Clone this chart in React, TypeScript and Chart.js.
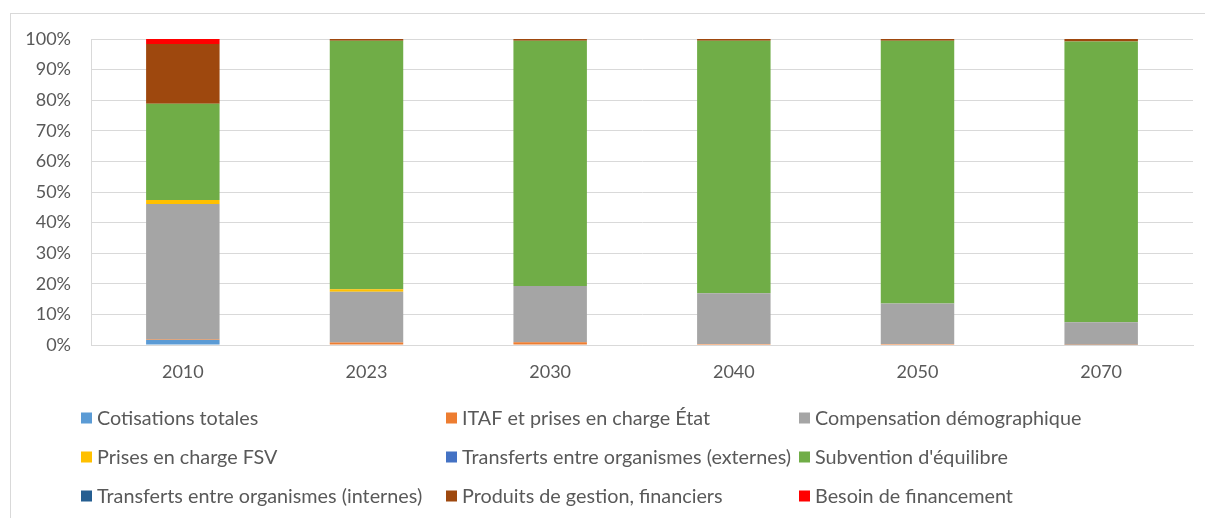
import React, { useEffect, useRef } from "react";
import { Chart, registerables } from "chart.js";

Chart.register(...registerables);

const years = ["2010", "2023", "2030", "2040", "2050", "2070"];

const seriesNames = [
  "Cotisations totales",
  "ITAF et prises en charge État",
  "Compensation démographique",
  "Prises en charge FSV",
  "Transferts entre organismes (externes)",
  "Subvention d'équilibre",
  "Transferts entre organismes (internes)",
  "Produits de gestion, financiers",
  "Besoin de financement",
];

const seriesColors = [
  "#5B9BD5",
  "#ED7D31",
  "#A5A5A5",
  "#FFC000",
  "#4472C4",
  "#70AD47",
  "#255E91",
  "#9E480E",
  "#FF0000",
];

const cotisations = [1.6, 0, 0, 0, 0, 0];
const itaf = [0.2, 0.8, 0.9, 0.3, 0.3, 0.1];
const compensation = [44.3, 16.6, 18.4, 16.6, 13.3, 7.3];
const fsv = [1.3, 0.8, 0, 0, 0, 0];
const transfertsExternes = [0, 0, 0, 0, 0, 0];
const subvention = [31.4, 81.2, 80.1, 82.5, 85.8, 91.8];
const transfertsInternes = [0, 0, 0, 0, 0, 0];
const produits = [19.6, 0.6, 0.6, 0.6, 0.6, 0.8];
const besoin = [1.6, 0, 0, 0, 0, 0];

const seriesValues = [
  cotisations,
  itaf,
  compensation,
  fsv,
  transfertsExternes,
  subvention,
  transfertsInternes,
  produits,
  besoin,
];

const yTicks = [0, 10, 20, 30, 40, 50, 60, 70, 80, 90, 100];

const TEXT = "#595959";
const GRID = "#D9D9D9";
const FONT = "Lato";

const legendCols = [81, 446, 799];
const legendRows = [418, 457, 496];

const gridLegend = {
  id: "gridLegend",
  afterDraw(chart: any) {
    const ctx = chart.ctx;
    ctx.save();
    ctx.font = `19.8px ${FONT}`;
    ctx.textBaseline = "middle";
    ctx.textAlign = "left";
    chart.data.datasets.forEach((ds: any, i: number) => {
      const col = i % 3;
      const row = Math.floor(i / 3);
      const x = legendCols[col];
      const y = legendRows[row];
      ctx.fillStyle = ds.backgroundColor;
      ctx.fillRect(x, y - 5.5, 11, 11);
      ctx.fillStyle = TEXT;
      ctx.fillText(ds.label, x + 16, y + 0.5);
    });
    ctx.restore();
  },
};

export default function App() {
  const ref = useRef<HTMLCanvasElement>(null);

  useEffect(() => {
    if (!ref.current) return;
    const chart = new Chart(ref.current, {
      type: "bar",
      data: {
        labels: years,
        datasets: seriesNames.map((name, i) => ({
          label: name,
          data: seriesValues[i],
          backgroundColor: seriesColors[i],
          borderWidth: 0,
          barPercentage: 0.4,
          categoryPercentage: 1,
        })),
      },
      options: {
        animation: false,
        responsive: false,
        layout: { padding: { top: 39, right: 12, left: 0, bottom: 128 } },
        plugins: {
          legend: { display: false },
          tooltip: { enabled: false },
        },
        scales: {
          x: {
            stacked: true,
            grid: { display: false, drawTicks: false },
            border: { display: true, color: GRID, width: 1 },
            ticks: {
              color: TEXT,
              font: { family: FONT, size: 18 },
              padding: 16,
            },
            afterFit: (s: any) => {
              s.height = 45;
            },
          },
          y: {
            stacked: true,
            min: 0,
            max: 100,
            afterBuildTicks: (s: any) => {
              s.ticks = yTicks.map((v) => ({ value: v }));
            },
            grid: { color: GRID, drawTicks: false, lineWidth: 1 },
            border: { display: true, color: GRID, width: 1 },
            ticks: {
              color: TEXT,
              font: { family: FONT, size: 18 },
              padding: 20,
              callback: (v: any) => `${v}%`,
            },
            afterFit: (s: any) => {
              s.width = 91;
            },
          },
        },
      },
      plugins: [gridLegend],
    });
    return () => chart.destroy();
  }, []);

  return (
    <div
      style={{
        position: "fixed",
        left: 0,
        top: 0,
        width: 1205,
        height: 518,
        background: "#fff",
      }}
    >
      <div
        style={{
          position: "absolute",
          left: 10,
          top: 13,
          width: 1200,
          height: 520,
          border: `1px solid ${GRID}`,
        }}
      />
      <canvas
        ref={ref}
        width={1205}
        height={518}
        style={{ position: "absolute", left: 0, top: 0, display: "block" }}
      />
    </div>
  );
}
